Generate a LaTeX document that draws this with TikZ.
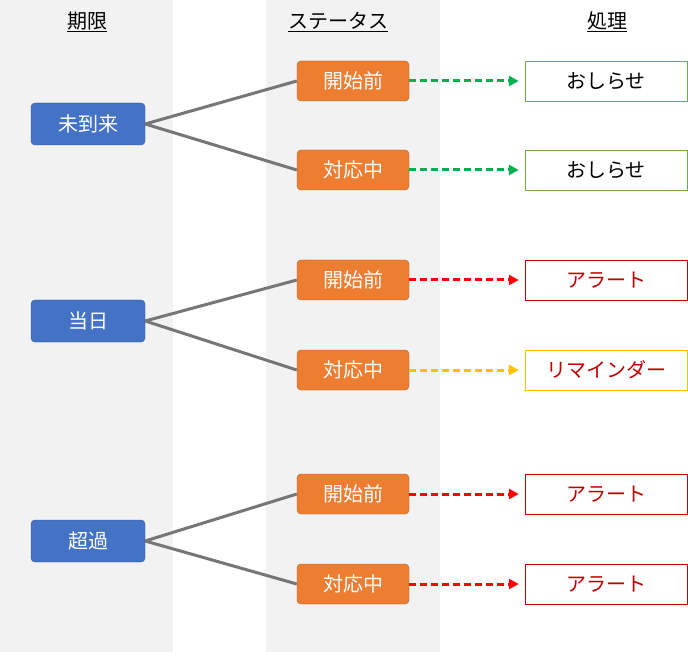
\documentclass[tikz,border=0pt]{standalone}
\usepackage{fontspec}
\setmainfont{Noto Sans CJK JP}
\usetikzlibrary{arrows.meta}
\definecolor{bgg}{HTML}{F2F2F2}
\definecolor{blu}{HTML}{4472C4}
\definecolor{blub}{HTML}{2F528F}
\definecolor{org}{HTML}{ED7D31}
\definecolor{orgb}{HTML}{AE5A21}
\definecolor{grn}{HTML}{70AD47}
\definecolor{agrn}{HTML}{00B050}
\definecolor{dred}{HTML}{C00000}
\definecolor{ylw}{HTML}{FFC000}
\definecolor{lin}{HTML}{767676}
\tikzset{x=1pt,y=-1pt,
 due/.style={draw=blub,fill=blu,rounded corners=4pt,minimum width=114pt,minimum height=42pt,text=white,font=\fontsize{20}{20}\selectfont,inner sep=0pt},
 st/.style={draw=orgb,fill=org,rounded corners=4pt,minimum width=112pt,minimum height=40pt,text=white,font=\fontsize{20}{20}\selectfont,inner sep=0pt},
 act/.style={draw=#1,fill=white,minimum width=162pt,minimum height=40pt,font=\fontsize{20}{20}\selectfont,inner sep=0pt},
 hdr/.style={font=\fontsize{20}{20}\selectfont},
 con/.style={draw=lin,line width=3pt},
 arr/.style={draw=#1,line width=3pt,dash pattern=on 7pt off 4pt,-{Triangle[length=10pt,width=10pt]}}}
\begin{document}
\begin{tikzpicture}
\useasboundingbox (0,0) rectangle (688,652);
\fill[bgg] (0,0) rectangle (173,652);
\fill[bgg] (266,0) rectangle (440,652);
\node[hdr] (h1) at (87,22) {\underline{期限}};
\node[hdr] (h2) at (338,22) {\underline{ステータス}};
\node[hdr] (h3) at (607,22) {\underline{処理}};
\node[due] (d1) at (88,124) {未到来};
\node[due] (d2) at (88,321) {当日};
\node[due] (d3) at (88,541) {超過};
\foreach \i/\y/\t in {1/81/開始前,2/170/対応中,3/280/開始前,4/370/対応中,5/494/開始前,6/584/対応中}
  \node[st] (s\i) at (353,\y) {\t};
\node[act=grn] (a1) at (606,81) {おしらせ};
\node[act=grn] (a2) at (606,170) {おしらせ};
\node[act=dred,text=dred] (a3) at (606,280) {アラート};
\node[act=ylw,text=dred] (a4) at (606,370) {リマインダー};
\node[act=dred,text=dred] (a5) at (606,494) {アラート};
\node[act=dred,text=dred] (a6) at (606,584) {アラート};
\draw[con] (d1.east) -- (s1.west); \draw[con] (d1.east) -- (s2.west);
\draw[con] (d2.east) -- (s3.west); \draw[con] (d2.east) -- (s4.west);
\draw[con] (d3.east) -- (s5.west); \draw[con] (d3.east) -- (s6.west);
\draw[arr=agrn] (s1.east) -- ([xshift=-6pt]a1.west);
\draw[arr=agrn] (s2.east) -- ([xshift=-6pt]a2.west);
\draw[arr=red] (s3.east) -- ([xshift=-6pt]a3.west);
\draw[arr=ylw] (s4.east) -- ([xshift=-6pt]a4.west);
\draw[arr=red] (s5.east) -- ([xshift=-6pt]a5.west);
\draw[arr=red] (s6.east) -- ([xshift=-6pt]a6.west);
\end{tikzpicture}
\end{document}
